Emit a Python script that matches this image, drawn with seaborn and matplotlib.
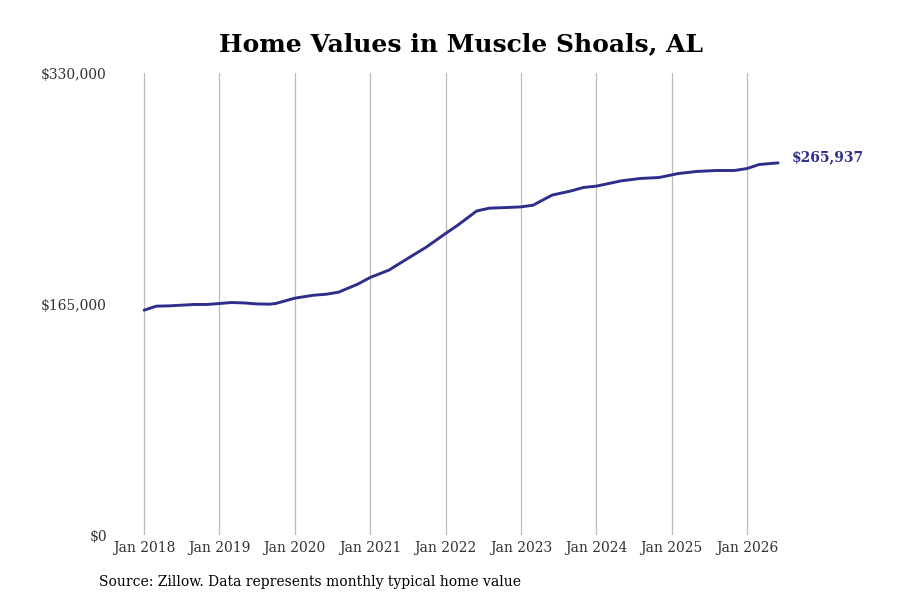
import pandas as pd
import matplotlib.pyplot as plt
import matplotlib.dates as mdates
import seaborn as sns

# values
dates = ["2018-01", "2018-03", "2018-05", "2018-09", "2018-11",
         "2019-01", "2019-03", "2019-05", "2019-07", "2019-09", "2019-10",
         "2020-01", "2020-04", "2020-06", "2020-08", "2020-11",
         "2021-01", "2021-04", "2021-07", "2021-10",
         "2022-01", "2022-03", "2022-06", "2022-08", "2022-11",
         "2023-01", "2023-03", "2023-06", "2023-09", "2023-11",
         "2024-01", "2024-05", "2024-08", "2024-11",
         "2025-02", "2025-05", "2025-08", "2025-11",
         "2026-01", "2026-03", "2026-06"]
home_values = [160700, 163600, 163800, 164800, 164800,
               165500, 166200, 165900, 165200, 165000, 165500,
               169300, 171400, 172100, 173600, 179300,
               184100, 189300, 197600, 205900,
               215500, 221400, 231600, 233600, 234100,
               234500, 235700, 242900, 245900, 248400,
               249300, 253100, 254800, 255500,
               258300, 259800, 260500, 260500,
               261900, 264800, 265937]
y_ticks = [0, 165000, 330000]
y_tick_labels = ["$0", "$165,000", "$330,000"]
x_ticks = ["2018-01", "2019-01", "2020-01", "2021-01", "2022-01",
           "2023-01", "2024-01", "2025-01", "2026-01"]

df = pd.DataFrame({"date": pd.to_datetime(dates), "value": home_values})

sns.set_style("white")
plt.rcParams["font.family"] = ["DejaVu Serif"]

line_color = "#2e2e8c"

fig = plt.figure(figsize=(9, 6), dpi=100)
ax = fig.add_axes([0.125, 0.108, 0.752, 0.77])

sns.lineplot(data=df, x="date", y="value", color=line_color, linewidth=2.1, ax=ax)

ax.set_ylim(0, 330000)
ax.set_xlim(pd.Timestamp("2017-08-01"), pd.Timestamp("2026-07-25"))
ax.set_yticks(y_ticks)
ax.set_yticklabels(y_tick_labels, fontsize=10, color="#333333")
ax.set_xticks(pd.to_datetime(x_ticks))
ax.xaxis.set_major_formatter(mdates.DateFormatter("%b %Y"))
ax.tick_params(axis="x", labelsize=10, colors="#333333", length=0, pad=4)
ax.tick_params(axis="y", length=0, pad=4)
ax.grid(axis="x", color="#bbbbbb", linewidth=0.9)
ax.grid(axis="y", visible=False)
sns.despine(ax=ax, left=True, bottom=True)
ax.set_xlabel("")
ax.set_ylabel("")

# end label
ax.annotate(f"${home_values[-1]:,}", xy=(df["date"].iloc[-1], home_values[-1]),
            xytext=(10, 4), textcoords="offset points", va="center", ha="left",
            fontsize=10, fontweight="bold", color=line_color, annotation_clip=False)

fig.text(0.512, 0.926, "Home Values in Muscle Shoals, AL", ha="center", va="center",
         fontsize=18, fontweight="bold", color="black")
fig.text(0.11, 0.03, "Source: Zillow. Data represents monthly typical home value",
         ha="left", va="center", fontsize=10, color="black")

fig.savefig("out.png", dpi=100)
